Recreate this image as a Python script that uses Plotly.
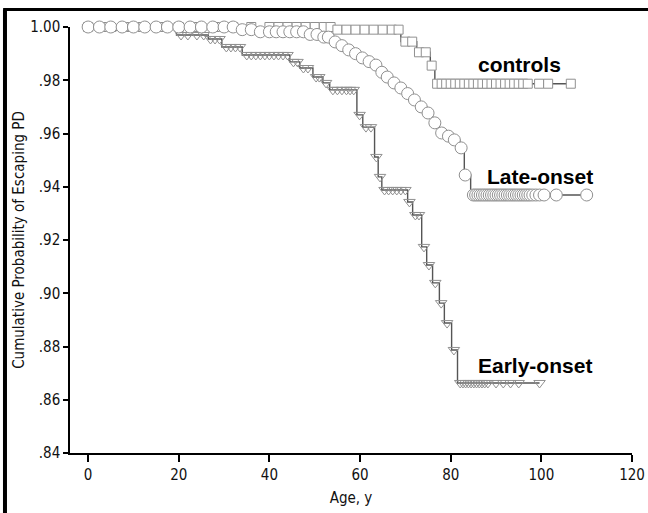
import numpy as np
import plotly.graph_objects as go

# ---------------- data ----------------
# Kaplan-Meier step vertices (age at which curve steps, survival after step)
controls_event_ages = [0, 54, 69, 72.5, 75.5, 76.5]
controls_surv = [1.0, 0.999, 0.9945, 0.9905, 0.9855, 0.9787]
controls_censor_ages = [0, 4, 8, 12, 16, 20, 24, 28, 32, 36, 40, 42, 44, 46, 48, 50, 52,
                        53.5, 55, 57, 59, 61, 63, 65, 67, 68.5, 70, 71.5, 73, 74.5, 75.8,
                        77, 78, 79, 80, 81, 82, 83, 84, 85, 86, 87, 88, 89, 90, 91, 92, 93,
                        94, 95, 96, 97, 99.5, 101.5, 106.5]

late_event_ages = [0, 33, 37, 48, 51, 53.5, 55.5, 57, 58.5, 60, 61.5, 63, 64.5, 65.5, 67,
                   68.7, 70, 71.6, 73, 74.7, 76, 77.5, 79, 80.4, 82, 83, 84.4]
late_surv = [1.0, 0.999, 0.9982, 0.9972, 0.9962, 0.9944, 0.993, 0.9914, 0.99, 0.9884, 0.987,
             0.9857, 0.983, 0.9812, 0.979, 0.9771, 0.975, 0.9726, 0.970, 0.9677, 0.964,
             0.9602, 0.959, 0.9576, 0.9546, 0.9444, 0.9369]
late_censor_ages = [0, 2.5, 5, 7.5, 10, 12.5, 15, 17.5, 20, 22.5, 25, 27.5, 30, 32, 34, 36,
                    38, 40, 41.5, 43, 44.5, 46, 47.5, 49, 50.5, 52, 53, 54.5, 56, 57.5, 59,
                    60.5, 62, 63.5, 64.8, 66, 67.5, 69, 70.5, 72, 73.5, 75, 76.5, 78, 79.5,
                    80.8, 82.3, 83.2, 85.0, 85.5, 86.0, 86.5, 87.0, 87.5, 88.0, 88.5, 89.0,
                    89.5, 90.0, 90.5, 91.0, 91.5, 92.0, 92.5, 93.0, 93.5, 94.0, 94.5, 95.0,
                    95.5, 96.0, 96.5, 97.0, 97.5, 98.1, 98.8, 99.6, 100.6, 103.3, 110]

early_event_ages = [0, 19.5, 26.5, 29.5, 34, 44.5, 46.7, 49.6, 51.8, 53.3, 59.3, 60.6, 63.2,
                    64, 64.8, 70.5, 71.6, 73.6, 74.7, 76, 77.5, 78.6, 80.2, 81.5]
early_surv = [1.0, 0.997, 0.9955, 0.9925, 0.9895, 0.9869, 0.9846, 0.9812, 0.979, 0.9764,
              0.967, 0.9624, 0.9512, 0.9437, 0.9388, 0.9343, 0.9294, 0.9174, 0.9106, 0.9039,
              0.8963, 0.8888, 0.8787, 0.8663]
early_censor_ages = [0, 3, 6, 9, 12, 15, 18, 20.5, 22, 24, 25.5, 27, 28, 29, 30.5, 31.5, 32.5,
                     33.5, 35, 36, 37, 38, 39, 40, 41, 42, 43, 44, 45.3, 46.2, 47.5, 48.5,
                     50.3, 51, 52.5, 54, 55, 56, 57, 57.8, 58.6, 59.9, 61.3, 62.4, 63.6, 64.4,
                     65.4, 66.3, 67.2, 68.1, 69, 70, 70.9, 72.2, 73, 74.1, 75.2, 76.6, 77.9,
                     79.2, 80.7, 82.1, 82.7, 83.3, 83.9, 84.5, 85.1, 85.7, 86.3, 86.9, 87.5,
                     88.2, 90, 91.6, 93.2, 95, 99.6]

x_tick_vals = [0, 20, 40, 60, 80, 100, 120]
y_tick_vals = [0.84, 0.86, 0.88, 0.90, 0.92, 0.94, 0.96, 0.98, 1.00]
y_tick_text = [".84", ".86", ".88", ".90", ".92", ".94", ".96", ".98", "1.00"]

group_labels = ["controls", "Late-onset", "Early-onset"]
label_x = [95.2, 99.6, 98.5]
label_y = [0.9858, 0.9437, 0.8730]

# ---------------- figure ----------------
NARROW = "DejaVu Sans Condensed, Liberation Sans Narrow, Arial Narrow, sans-serif"
LINE_C = "#555555"
MARK_C = "#909090"

fig = go.Figure()


def add_group(event_ages, surv, censor_ages, symbol, size, fill):
    ev = np.array(event_ages, dtype=float)
    sv = np.array(surv, dtype=float)
    ca = np.array(censor_ages, dtype=float)
    last = max(ca.max(), ev.max())
    fig.add_trace(go.Scatter(
        x=list(ev) + [last], y=list(sv) + [sv[-1]],
        mode="lines", line=dict(color=LINE_C, width=1.4, shape="hv"),
        hoverinfo="skip", showlegend=False, cliponaxis=False))
    idx = np.searchsorted(ev, ca, side="right") - 1
    fig.add_trace(go.Scatter(
        x=ca, y=sv[idx], mode="markers",
        marker=dict(symbol=symbol, size=size, color=fill,
                    line=dict(color=MARK_C, width=1)),
        showlegend=False, cliponaxis=False))


add_group(controls_event_ages, controls_surv, controls_censor_ages, "square", 9, "white")
add_group(early_event_ages, early_surv, early_censor_ages, "triangle-down-open", 10, MARK_C)
add_group(late_event_ages, late_surv, late_censor_ages, "circle", 12, "white")

for t, x, y in zip(group_labels, label_x, label_y):
    fig.add_annotation(x=x, y=y, text="<b>" + t + "</b>", showarrow=False,
                       font=dict(family="Liberation Sans, Arial, sans-serif",
                                 size=21, color="black"))

# outer frame (left and top edges of the figure box)
fig.add_shape(type="line", xref="paper", yref="paper",
              x0=-0.1157, x1=-0.1157, y0=-0.2, y1=1.041,
              line=dict(color="black", width=4))
fig.add_shape(type="line", xref="paper", yref="paper",
              x0=-0.119, x1=1.1, y0=1.041, y1=1.041,
              line=dict(color="black", width=3))

fig.update_layout(
    width=648, height=513,
    margin=dict(l=70, r=16, t=27, b=60, autoexpand=False),
    paper_bgcolor="white", plot_bgcolor="white",
    font=dict(family=NARROW, size=15, color="#111"),
    xaxis=dict(range=[-4, 120], tickvals=x_tick_vals, ticks="outside", ticklen=7,
               tickwidth=1.5, tickcolor="black", showline=True, linecolor="black",
               linewidth=1.5, showgrid=False, zeroline=False, automargin=False,
               title=dict(text="Age, y", font=dict(size=15), standoff=10)),
    yaxis=dict(range=[0.84, 1.0], tickvals=y_tick_vals, ticktext=y_tick_text,
               ticks="outside", ticklen=5, tickwidth=1.5, tickcolor="black",
               showline=True, linecolor="black", linewidth=1.5, showgrid=False,
               zeroline=False, automargin=False,
               title=dict(text="Cumulative Probability of Escaping PD",
                          font=dict(size=15), standoff=2)),
)

fig.write_html("out.html",
               config={"displayModeBar": False},
               post_script="document.body.style.margin='0';"
                           "document.body.style.overflow='hidden';")
